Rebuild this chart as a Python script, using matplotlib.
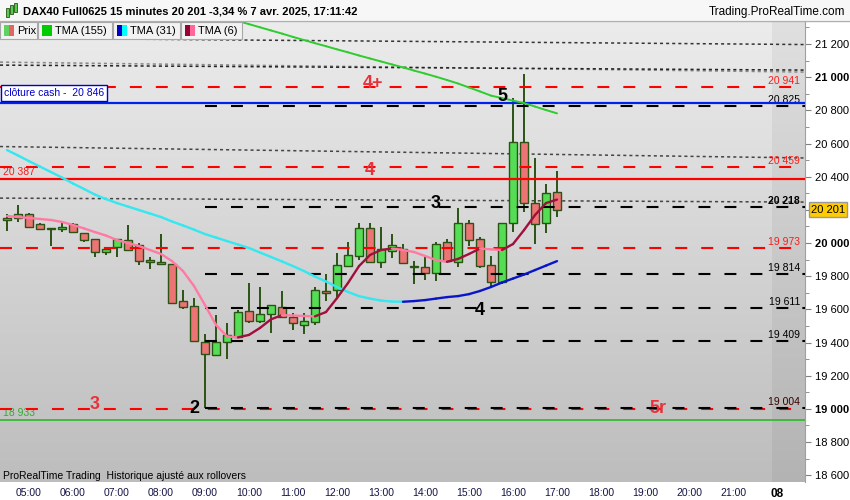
import numpy as np
import matplotlib.pyplot as plt
from matplotlib.patches import Rectangle
from matplotlib.collections import LineCollection

plt.rcParams["font.family"] = ["Liberation Sans", "DejaVu Sans"]
plt.rcParams["lines.scale_dashes"] = False

W, H = 850, 500

# DAX40 15-min candles, 04:30 -> 17:00
opens = [20137, 20149, 20173, 20113, 20088, 20083, 20113, 20059, 20022, 19944,
         19974, 20018, 19986, 19896, 19878, 19873, 19648, 19620, 19405, 19325,
         19401, 19435, 19592, 19531, 19570, 19616, 19556, 19504, 19526, 19711,
         19717, 19863, 19923, 20089, 19884, 19952, 19964, 19863, 19853, 19817,
         20004, 19887, 20119, 20022, 19866, 19763, 20119, 20607, 20239, 20119,
         20310]
highs = [20175, 20227, 20181, 20121, 20090, 20119, 20119, 20062, 20024, 19970,
         20025, 20107, 19998, 19917, 20052, 19876, 19717, 19667, 19451, 19566,
         19520, 19596, 19757, 19733, 19624, 19711, 19576, 19576, 19733, 19813,
         19938, 20008, 20119, 20119, 20095, 20054, 19992, 19891, 19928, 20008,
         20022, 20209, 20139, 20034, 19922, 20119, 20873, 21019, 20511, 20356,
         20434]
lows = [20074, 20128, 20092, 20080, 19982, 20068, 20062, 20004, 19914, 19930,
        19914, 19955, 19869, 19841, 19872, 19634, 19600, 19405, 19004, 19320,
        19299, 19430, 19520, 19520, 19455, 19550, 19476, 19450, 19505, 19652,
        19667, 19858, 19898, 19885, 19847, 19908, 19875, 19751, 19777, 19773,
        19880, 19857, 19984, 19847, 19727, 19750, 20068, 20189, 19992, 20058,
        20155]
closes = [20152, 20173, 20098, 20083, 20085, 20098, 20065, 20018, 19944, 19966,
          20022, 19958, 19890, 19884, 19875, 19640, 19612, 19411, 19329, 19405,
          19445, 19584, 19531, 19570, 19624, 19556, 19516, 19530, 19717, 19697,
          19867, 19928, 20089, 19888, 19962, 19986, 19878, 19853, 19817, 19992,
          19893, 20119, 20018, 19863, 19763, 20119, 20607, 20243, 20113, 20300,
          20201]

tma6 = [20163, 20157, 20151, 20145, 20139, 20127, 20109, 20088, 20066, 20045,
        20018, 20000, 19982, 19958, 19934, 19891, 19831, 19741, 19626, 19506,
        19437, 19431, 19446, 19488, 19540, 19565, 19563, 19560, 19558, 19584,
        19668, 19759, 19861, 19928, 19958, 19967, 19958, 19946, 19922, 19898,
        19887, 19904, 19934, 19967, 19962, 19958, 19994, 20078, 20169, 20241,
        20262]
tma31 = [20561, 20528, 20494, 20461, 20428, 20395, 20359, 20326, 20292, 20265,
         20241, 20220, 20199, 20178, 20157, 20130, 20106, 20081, 20054, 20033,
         20012, 19991, 19970, 19943, 19916, 19889, 19861, 19831, 19798, 19768,
         19735, 19705, 19680, 19665, 19653, 19647, 19646, 19650, 19656, 19665,
         19674, 19680, 19692, 19711, 19735, 19762, 19786, 19810, 19837, 19864,
         19891]
tma155 = [np.nan] * 19 + [
    21378, 21358, 21339, 21320, 21301, 21282, 21263, 21243, 21224, 21205,
    21187, 21168, 21150, 21131, 21113, 21095, 21077, 21059, 21040, 21022,
    21003, 20983, 20962, 20938, 20914, 20889, 20874, 20859, 20844, 20823,
    20802, 20782]

hour_labels = ["05:00", "06:00", "07:00", "08:00", "09:00", "10:00", "11:00",
               "12:00", "13:00", "14:00", "15:00", "16:00", "17:00", "18:00",
               "19:00", "20:00", "21:00", "08"]

red_dash_levels = [20941, 20459, 19973, 19000]
red_dash_texts = ["20 941", "20 459", "19 973", ""]
black_dash_levels = [20825, 20218, 19814, 19611, 19409, 19004]
black_dash_texts = ["20 825", "20 218", "19 814", "19 611", "19 409", "19 004"]
cash_close = 20846
red_solid = 20387
green_solid = 18933
last_price = 20201

# slanted dotted lines: value at left edge / right edge
dotted_left = [21236, 21091, 21073, 20582, 20271]
dotted_right = [21197, 21031, 21043, 20513, 20247]
dotted_colors = ["#333333", "#888888", "#222222", "#444444", "#444444"]

# wave counts: text, candle position, price
marks = [("4+", 33.3, 20965, "#e8313a", 13),
         ("4", 33.0, 20440, "#e8313a", 13),
         ("5", 45.0, 20886, "black", 13),
         ("3", 39.0, 20241, "black", 13),
         ("4", 43.0, 19596, "black", 13),
         ("2", 17.0, 19005, "black", 13),
         ("3", 8.0, 19029, "#e8313a", 13),
         ("5r", 59.2, 19005, "#e8313a", 13)]

xmin, xmax = -0.636, 72.545
ymin, ymax = 18559, 21339

fig = plt.figure(figsize=(W / 100, H / 100), dpi=100)
fig.patch.set_facecolor("white")
ax = fig.add_axes([0, 18 / H, 805 / W, 461 / H])
ax.set_xlim(xmin, xmax)
ax.set_ylim(ymin, ymax)

# background gradient + darker next-day strip
grad = np.linspace(236, 189, 256)[:, None] / 255.0
ax.imshow(np.dstack([grad, grad, grad]), extent=[xmin, xmax, ymin, ymax],
          aspect="auto", zorder=0)
grad2 = np.linspace(224, 179, 256)[:, None] / 255.0
ax.imshow(np.dstack([grad2, grad2, grad2]), extent=[69.55, xmax, ymin, ymax],
          aspect="auto", zorder=0.1)

# dotted lines
for a, b, c in zip(dotted_left, dotted_right, dotted_colors):
    ax.plot([xmin, xmax], [a, b], color=c, lw=1.1, ls=(0, (2.2, 2.2)), zorder=1)

dash = (0, (8.6, 10.1))
for lv, t in zip(red_dash_levels, red_dash_texts):
    ax.hlines(lv, xmin, xmax, color="#ff0000", lw=1.5, ls=dash, zorder=5)
    if t:
        ax.annotate(t, (72.1, lv), xytext=(0, 1), textcoords="offset pixels",
                    ha="right", va="bottom", fontsize=7.5, color="#ff1a1a")
for lv, t in zip(black_dash_levels, black_dash_texts):
    ax.hlines(lv, 18.0, xmax, color="black", lw=1.5, ls=dash, zorder=5.1)
    ax.annotate(t, (72.1, lv), xytext=(0, 1), textcoords="offset pixels",
                ha="right", va="bottom", fontsize=7.5,
                color="#3a0000" if lv == 19004 else "black",
                fontweight="bold" if lv == 20218 else "normal")

ax.axhline(cash_close, color="#0022ee", lw=1.6, zorder=5)
ax.annotate("clôture cash -  20 846", (xmin, cash_close), xytext=(4, 5),
            textcoords="offset pixels", ha="left", va="bottom", fontsize=7.5,
            color="#0000cc", zorder=8,
            bbox=dict(boxstyle="square,pad=0.3", fc="white", ec="#0000cc", lw=1))
ax.axhline(red_solid, color="#ff0000", lw=1.6, zorder=5)
ax.annotate("20 387", (xmin, red_solid), xytext=(3, 2), textcoords="offset pixels",
            ha="left", va="bottom", fontsize=7.5, color="#ff1a1a")
ax.axhline(green_solid, color="#33bb33", lw=1.3, zorder=5)
ax.annotate("18 933", (xmin, green_solid), xytext=(3, 2), textcoords="offset pixels",
            ha="left", va="bottom", fontsize=7.5, color="#33aa33")

# candles
o = np.array(opens)
c = np.array(closes)
idx = np.arange(len(o))
edge = "#2b5314"
ax.vlines(idx, lows, highs, color=edge, lw=1.4, zorder=3)
up = c >= o
body_col = np.where(up, "#55dd55", "#ec7474")
ax.bar(idx, np.maximum(np.abs(c - o), 8), bottom=np.minimum(o, c), width=0.72,
       color=body_col, edgecolor=edge, lw=1.0, zorder=4)


def colored_line(vals, col_down, col_up, lw):
    v = np.array(vals, dtype=float)
    x = np.arange(len(v))
    segs, cols = [], []
    for i in range(len(v) - 1):
        if np.isnan(v[i]) or np.isnan(v[i + 1]):
            continue
        segs.append([(x[i], v[i]), (x[i + 1], v[i + 1])])
        cols.append(col_down if v[i + 1] < v[i] else col_up)
    ax.add_collection(LineCollection(segs, colors=cols, lw=lw, zorder=6,
                                     capstyle="round"))


colored_line(tma155, "#2ecc2e", "#2ecc2e", 1.4)
colored_line(tma31, "#33e8f0", "#0a14c8", 1.7)
colored_line(tma6, "#ff7aa2", "#a0103c", 1.7)

for t, xi, yv, col, fs in marks:
    ax.text(xi, yv, t, color=col, fontweight="bold", fontsize=fs, ha="center",
            va="center", zorder=9)

# axes
for s in ["top", "left", "bottom"]:
    ax.spines[s].set_visible(False)
ax.spines["right"].set_color("#a0a0a0")
ax.yaxis.tick_right()
yt = list(range(18600, 21201, 200))
ax.set_yticks(yt)
ax.set_yticks(list(range(18700, 21301, 200)), minor=True)
ylabs = ["" if v == 20200 else f"{v // 1000} {v % 1000:03d}" for v in yt]
ax.set_yticklabels(ylabs)
for lab, v in zip(ax.get_yticklabels(), yt):
    if v % 1000 == 0:
        lab.set_fontweight("bold")
        lab.set_fontsize(8.5)
ax.tick_params(axis="y", which="major", direction="out", length=4, color="#808080",
               labelsize=8, pad=3)
ax.tick_params(axis="y", which="minor", direction="out", length=3, color="#808080")

ax.set_xticks(list(range(2, 71, 4)))
ax.set_xticklabels(hour_labels)
ax.tick_params(axis="x", length=0, labelsize=7.5, labelcolor="#141446", pad=4)
xl = ax.get_xticklabels()
xl[-1].set_fontweight("bold")
xl[-1].set_color("black")
xl[-1].set_fontsize(8.5)

ax.annotate(f"{last_price // 1000} {last_price % 1000:03d}", (xmax, last_price),
            xytext=(6, 0), textcoords="offset pixels", ha="left", va="center",
            fontsize=8, annotation_clip=False, zorder=10,
            bbox=dict(boxstyle="square,pad=0.2", fc="#ffcc00", ec="#999999", lw=1))

# header
fig.add_artist(Rectangle((0, 1 - 20 / H), 1, 20 / H, transform=fig.transFigure,
                         fc="#f7f7f7", ec="none", zorder=0))
fig.add_artist(plt.Line2D([0, 1], [1 - 20.5 / H] * 2, color="#b0b0b0", lw=1))
fig.text(23 / W, 1 - 11 / H, "DAX40 Full0625 15 minutes 20 201 -3,34 % 7 avr. 2025, 17:11:42",
         fontsize=8, fontweight="bold", va="center")
fig.text(845 / W, 1 - 12 / H, "Trading.ProRealTime.com", fontsize=8.5, ha="right",
         va="center")
for hx, hy, hh in [(6, 8, 9), (10, 5, 9), (14, 3, 9)]:
    fig.add_artist(Rectangle((hx / W, 1 - (hy + hh) / H), 3 / W, hh / H,
                             transform=fig.transFigure, fc="#55cc55", ec="#2b5314",
                             lw=0.6))

# legend row
leg = [("Prix", 0, 37, ["#5fd35f", "#e06666"]),
       ("TMA (155)", 38, 112, ["#00cc00", "#00cc00"]),
       ("TMA (31)", 113, 180, ["#0000cc", "#00ffff"]),
       ("TMA (6)", 181, 242, ["#990033", "#ff6699"])]
for name, x0, x1, cols in leg:
    fig.add_artist(Rectangle((x0 / W, 1 - 39 / H), (x1 - x0) / W, 17 / H,
                             transform=fig.transFigure, fc="#f2f2f2", ec="#a8a8a8",
                             lw=0.8, zorder=20))
    for j, cc in enumerate(cols):
        fig.add_artist(Rectangle(((x0 + 4 + 5 * j) / W, 1 - 36 / H), 5 / W, 11 / H,
                                 transform=fig.transFigure, fc=cc, ec="none",
                                 zorder=21))
    fig.text((x0 + 17) / W, 1 - 30.5 / H, name, fontsize=8, va="center", zorder=22)

fig.text(3 / W, 1 - 476 / H, "ProRealTime Trading  Historique ajusté aux rollovers",
         fontsize=7.5, va="center")

fig.savefig("out.png", dpi=100, facecolor="white")
